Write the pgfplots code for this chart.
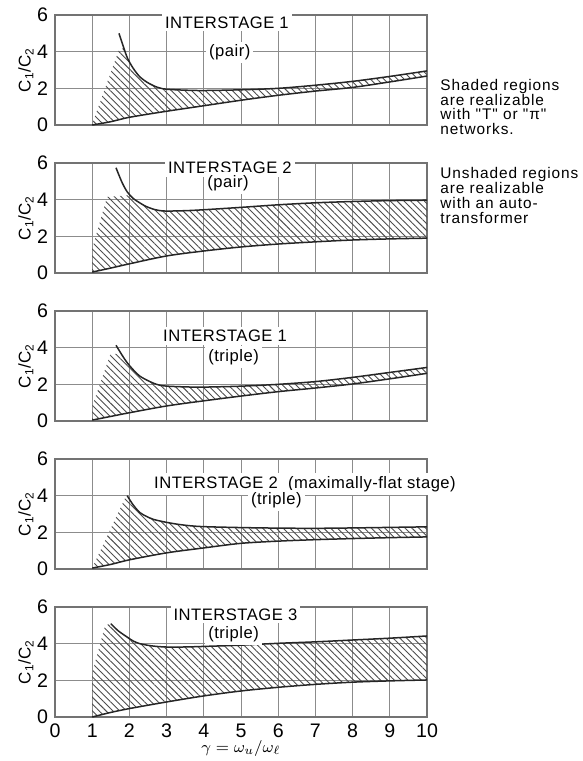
\documentclass[border=0pt]{standalone}
\usepackage{fontspec}
\setmainfont{Liberation Sans}
\newfontfamily\lettering[LetterSpace=3]{Liberation Sans}
\newfontfamily\notes[LetterSpace=6]{Liberation Sans}
\usepackage{pgfplots}
\pgfplotsset{compat=1.18}
\usetikzlibrary{patterns.meta}

\tikzset{ttl/.style={fill=white,inner sep=1.5pt,font=\lettering\fontsize{8.3}{8.6}\selectfont}}
\pgfplotsset{
 panel/.style={
  scale only axis, width=186pt, height=55pt,
  xmin=0,xmax=10,ymin=0,ymax=6,
  xtick={0,...,10}, ytick={0,2,4,6},
  grid=major, major grid style={black!45,line width=0.45pt},
  axis line style={black!55,line width=0.6pt},
  major tick length=0pt,
  tick label style={font=\fontsize{9.8}{9.8}\selectfont},
  /pgf/number format/assume math mode=true,
  ylabel={C\textsubscript{1}/C\textsubscript{2}},
  ylabel style={at={(axis description cs:-0.078,0.5)},anchor=center,font=\fontsize{8.5}{8.5}\selectfont},
  clip=false, anchor=south west,
 },
 curve/.style={black!85,line width=0.75pt,smooth,no markers},
 hatch/.style={draw=none,pattern={Lines[angle=-45,distance=2.4pt,line width=0.45pt]},pattern color=black!70},
}

\begin{document}
\begin{tikzpicture}
\useasboundingbox (0,0) rectangle (291.5pt,380.5pt);

% ---------- Panel 1 ----------
\begin{axis}[panel, at={(27.5pt,318pt)}, xticklabels={}]
\addplot[hatch] coordinates {(1,0.0) (1.5,0.18) (2,0.42) (3,0.75) (4,1.05) (5,1.35) (6,1.62) (7,1.85) (8,2.05) (9,2.35) (10,2.67)
 (10,2.95) (9,2.65) (8,2.38) (7,2.17) (6,2.0) (5,1.92) (4,1.88) (3.5,1.9) (3,1.95) (2.75,2.06) (2.5,2.3) (2.28,2.63) (2.1,3.1) (1.95,3.64) (1.85,4.2)
 (1.72,4.1) (1.0,0.05)};
\addplot[curve] coordinates {(1,0.0) (1.5,0.18) (2,0.42) (3,0.75) (4,1.05) (5,1.35) (6,1.62) (7,1.85) (8,2.05) (9,2.35) (10,2.67)};
\addplot[curve] coordinates {(1.72,5.0) (1.85,4.2) (1.95,3.64) (2.1,3.1) (2.28,2.63) (2.5,2.3) (2.75,2.06) (3,1.95) (3.5,1.9) (4,1.88) (5,1.92) (6,2.0) (7,2.17) (8,2.38) (9,2.65) (10,2.95)};
\node[ttl] at (axis cs:4.62,5.6) {INTERSTAGE 1};
\node[ttl] at (axis cs:4.7,3.96) {(pair)};
\end{axis}

% ---------- Panel 2 ----------
\begin{axis}[panel, at={(27.5pt,244pt)}, xticklabels={}]
\addplot[hatch] coordinates {(1,0.05) (1.5,0.27) (2,0.5) (3,0.93) (4,1.2) (5,1.42) (6,1.58) (7,1.7) (8,1.8) (9,1.86) (10,1.9)
 (10,3.97) (9,3.95) (8,3.9) (7,3.83) (6,3.72) (5,3.58) (4,3.45) (3.5,3.4) (2.96,3.38) (2.7,3.45) (2.46,3.62) (2.3,3.8) (2.1,4.07) (2.0,4.25)
 (1.4,4.15) (1.0,1.3) (1.0,0.05)};
\addplot[curve] coordinates {(1,0.05) (1.5,0.27) (2,0.5) (3,0.93) (4,1.2) (5,1.42) (6,1.58) (7,1.7) (8,1.8) (9,1.86) (10,1.9)};
\addplot[curve] coordinates {(1.64,5.74) (1.8,4.95) (1.94,4.43) (2.1,4.07) (2.3,3.8) (2.46,3.62) (2.7,3.45) (2.96,3.38) (3.5,3.4) (4,3.45) (5,3.58) (6,3.72) (7,3.83) (8,3.9) (9,3.95) (10,3.97)};
\node[ttl] at (axis cs:4.7,5.73) {INTERSTAGE 2};
\node[ttl] at (axis cs:4.65,4.9) {(pair)};
\end{axis}

% ---------- Panel 3 ----------
\begin{axis}[panel, at={(27.5pt,170pt)}, xticklabels={}]
\addplot[hatch] coordinates {(1,0.05) (1.5,0.25) (2,0.45) (3,0.82) (4,1.1) (5,1.36) (6,1.6) (7,1.8) (8,2.02) (9,2.3) (10,2.6)
 (10,2.92) (9,2.65) (8,2.38) (7,2.15) (6,2.0) (5,1.9) (4,1.85) (3.5,1.86) (2.96,1.91) (2.73,2.0) (2.5,2.2) (2.28,2.45) (2.1,2.8) (1.94,3.18) (1.8,3.6)
 (1.5,3.7) (1.0,0.8) (1.0,0.05)};
\addplot[curve] coordinates {(1,0.05) (1.5,0.25) (2,0.45) (3,0.82) (4,1.1) (5,1.36) (6,1.6) (7,1.8) (8,2.02) (9,2.3) (10,2.6)};
\addplot[curve] coordinates {(1.64,4.13) (1.8,3.6) (1.94,3.18) (2.1,2.8) (2.28,2.45) (2.5,2.2) (2.73,2.0) (2.96,1.91) (3.5,1.86) (4,1.85) (5,1.9) (6,2.0) (7,2.15) (8,2.38) (9,2.65) (10,2.92)};
\node[ttl] at (axis cs:4.57,4.65) {INTERSTAGE 1};
\node[ttl] at (axis cs:4.8,3.48) {(triple)};
\end{axis}

% ---------- Panel 4 ----------
\begin{axis}[panel, at={(27.5pt,96pt)}, xticklabels={}]
\addplot[hatch] coordinates {(1,0.05) (1.5,0.25) (2,0.5) (3,0.88) (4,1.15) (5,1.4) (6,1.52) (7,1.6) (8,1.66) (9,1.71) (10,1.75)
 (10,2.3) (9,2.27) (8,2.24) (7,2.22) (6,2.23) (5,2.26) (4,2.31) (3.63,2.36) (3.3,2.44) (2.96,2.56) (2.64,2.71) (2.45,2.88) (2.28,3.08) (2.1,3.5) (1.94,4.0)
 (1.88,3.85) (1.0,0.05)};
\addplot[curve] coordinates {(1,0.05) (1.5,0.25) (2,0.5) (3,0.88) (4,1.15) (5,1.4) (6,1.52) (7,1.6) (8,1.66) (9,1.71) (10,1.75)};
\addplot[curve] coordinates {(1.94,4.0) (2.1,3.5) (2.28,3.08) (2.45,2.88) (2.64,2.71) (2.96,2.56) (3.3,2.44) (3.63,2.36) (4,2.31) (5,2.26) (6,2.23) (7,2.22) (8,2.24) (9,2.27) (10,2.3)};
\node[ttl] at (axis cs:6.72,4.64) {INTERSTAGE 2\ \ (maximally-flat stage)};
\node[ttl] at (axis cs:5.95,3.73) {(triple)};
\end{axis}

% ---------- Panel 5 ----------
\begin{axis}[panel, at={(27.5pt,22pt)},
  xlabel={$\gamma = \omega_u/\omega_\ell$},
  xlabel style={font=\fontsize{8}{8}\selectfont, at={(axis description cs:0.5,0)}, anchor=center, yshift=-15.5pt}]
\addplot[hatch] coordinates {(1,0.0) (1.5,0.25) (2,0.46) (3,0.82) (4,1.15) (5,1.42) (6,1.62) (7,1.78) (8,1.9) (9,1.97) (10,2.02)
 (10,4.42) (9,4.3) (8,4.2) (7,4.1) (6,4.02) (5,3.92) (4,3.85) (3.5,3.82) (2.96,3.82) (2.6,3.88) (2.28,4.0) (2.1,4.15) (1.94,4.36) (1.7,4.7) (1.5,5.09)
 (1.35,5.0) (1.0,2.4) (1.0,0.0)};
\addplot[curve] coordinates {(1,0.0) (1.5,0.25) (2,0.46) (3,0.82) (4,1.15) (5,1.42) (6,1.62) (7,1.78) (8,1.9) (9,1.97) (10,2.02)};
\addplot[curve] coordinates {(1.5,5.09) (1.7,4.7) (1.94,4.36) (2.1,4.15) (2.28,4.0) (2.6,3.88) (2.96,3.82) (3.5,3.82) (4,3.85) (5,3.92) (6,4.02) (7,4.1) (8,4.2) (9,4.3) (10,4.42)};
\node[ttl] at (axis cs:4.85,5.6) {INTERSTAGE 3};
\node[ttl] at (axis cs:4.8,4.53) {(triple)};
\end{axis}

% ---------- side notes ----------
\node[anchor=west, align=left, inner sep=0pt, font=\notes\fontsize{7.7}{7.3}\selectfont] at (220pt,327pt)
 {Shaded regions\\are realizable\\with "T" or "π"\\networks.};
\node[anchor=west, align=left, inner sep=0pt, font=\notes\fontsize{7.7}{7.5}\selectfont] at (220pt,282.7pt)
 {Unshaded regions\\are realizable\\with an auto-\\transformer};
\end{tikzpicture}
\end{document}
